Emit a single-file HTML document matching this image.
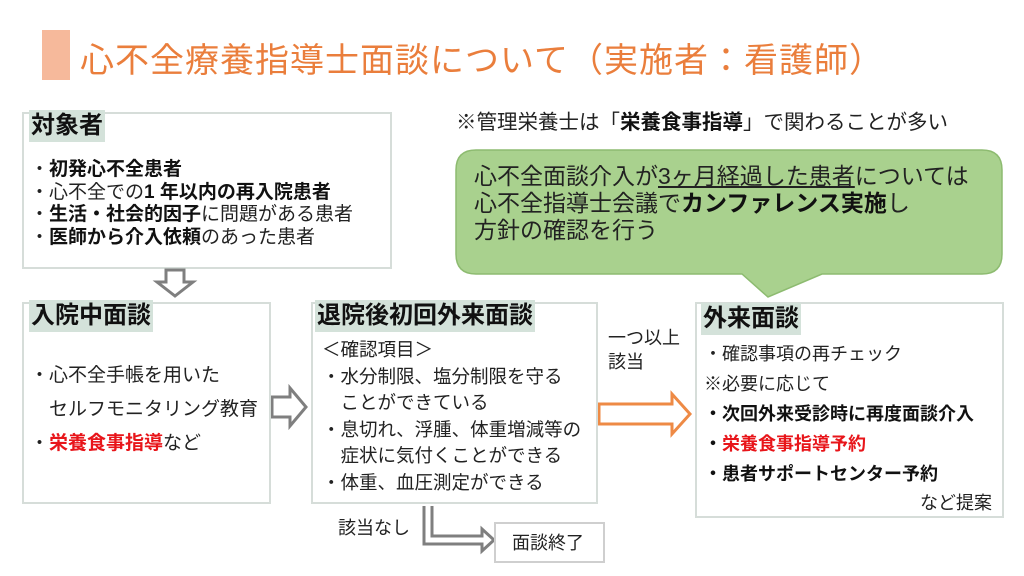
<!DOCTYPE html>
<html><head><meta charset="utf-8"><style>
body{margin:0;width:1024px;height:576px;background:#fff;position:relative;overflow:hidden;font-family:"Liberation Sans","Noto Sans CJK JP",sans-serif;color:#222}
.a{position:absolute;white-space:nowrap}
.box{position:absolute;border:2px solid #d6ddd9;background:#fff;box-sizing:border-box}
.hd{position:absolute;background:#d4e2da;font-weight:bold;font-size:24px;color:#111;line-height:32px;padding:0 2px}
b{font-weight:bold;color:#111}
.r{color:#e8151a;font-weight:bold}
</style></head><body>
<div class="a" style="left:42px;top:30px;width:28px;height:50px;background:#f6b99b"></div>
<div class="a" style="left:80px;top:33px;font-size:34px;color:#ea7e3c;letter-spacing:1px">心不全療養指導士面談について（実施者：看護師）</div>

<div class="box" style="left:22px;top:112px;width:370px;height:157px"></div>
<div class="hd" style="left:29px;top:110px">対象者</div>
<div class="a" style="left:30px;top:159px;font-size:19px;line-height:22.5px">・<b>初発心不全患者</b><br>・心不全での<b>1 年以内の再入院患者</b><br>・<b>生活・社会的因子</b>に問題がある患者<br>・<b>医師から介入依頼</b>のあった患者</div>

<div class="a" style="left:456px;top:105px;font-size:20.5px">※管理栄養士は「<b>栄養食事指導</b>」で関わることが多い</div>

<svg class="a" style="left:0;top:0" width="1024" height="576">
<path d="M476 150 H982 Q1002 150 1002 170 V254 Q1002 274 982 274 H822 L768 297 L742 274 H476 Q456 274 456 254 V170 Q456 150 476 150 Z" fill="#a9d18e" stroke="#8dbb70" stroke-width="1.5"/>
<path d="M166 270 H184 V282 H193 L175 296 L157 282 H166 Z" fill="#fff" stroke="#7f7f7f" stroke-width="3"/>
<path d="M272 397 H290 V388 L306 407 L290 426 V417 H272 Z" fill="#fff" stroke="#7f7f7f" stroke-width="3"/>
<path d="M599 404 H672 V394 L690 414 L672 434 V424 H599 Z" fill="#fff" stroke="#ee8a45" stroke-width="3"/>
<path d="M424 506 V544 H482 V551 L494 540 L482 529 V536 H432 V506" fill="#fff" stroke="#7f7f7f" stroke-width="3"/>
</svg>
<div class="a" style="left:474px;top:163px;font-size:23px;line-height:27px;color:#222">心不全面談介入が<span style="text-decoration:underline">3ヶ月経過した患者</span>については<br>心不全指導士会議で<b>カンファレンス実施</b>し<br>方針の確認を行う</div>

<div class="box" style="left:22px;top:302px;width:249px;height:202px"></div>
<div class="hd" style="left:29px;top:300px">入院中面談</div>
<div class="a" style="left:30px;top:359px;font-size:19px;line-height:34px">・心不全手帳を用いた<br>　セルフモニタリング教育<br>・<span class="r">栄養食事指導</span>など</div>

<div class="box" style="left:311px;top:302px;width:287px;height:202px"></div>
<div class="hd" style="left:315px;top:300px">退院後初回外来面談</div>
<div class="a" style="left:322px;top:337px;font-size:18.5px;line-height:26.5px">＜確認項目＞<br>・水分制限、塩分制限を守る<br>　ことができている<br>・息切れ、浮腫、体重増減等の<br>　症状に気付くことができる<br>・体重、血圧測定ができる</div>

<div class="a" style="left:608px;top:326px;font-size:18px;line-height:24px">一つ以上<br>該当</div>
<div class="a" style="left:338px;top:514px;font-size:18px">該当なし</div>
<div class="box" style="left:494px;top:522px;width:111px;height:41px;border-color:#cfcfcf"></div>
<div class="a" style="left:512px;top:529px;font-size:18px">面談終了</div>

<div class="box" style="left:695px;top:302px;width:309px;height:216px"></div>
<div class="hd" style="left:701px;top:303px">外来面談</div>
<div class="a" style="left:704px;top:339px;font-size:18px;line-height:30px">・確認事項の再チェック<br>※必要に応じて<br><b>・次回外来受診時に再度面談介入</b><br><b>・</b><span class="r">栄養食事指導予約</span><br><b>・患者サポートセンター予約</b></div>
<div class="a" style="left:920px;top:489px;font-size:18px">など提案</div>
</body></html>
